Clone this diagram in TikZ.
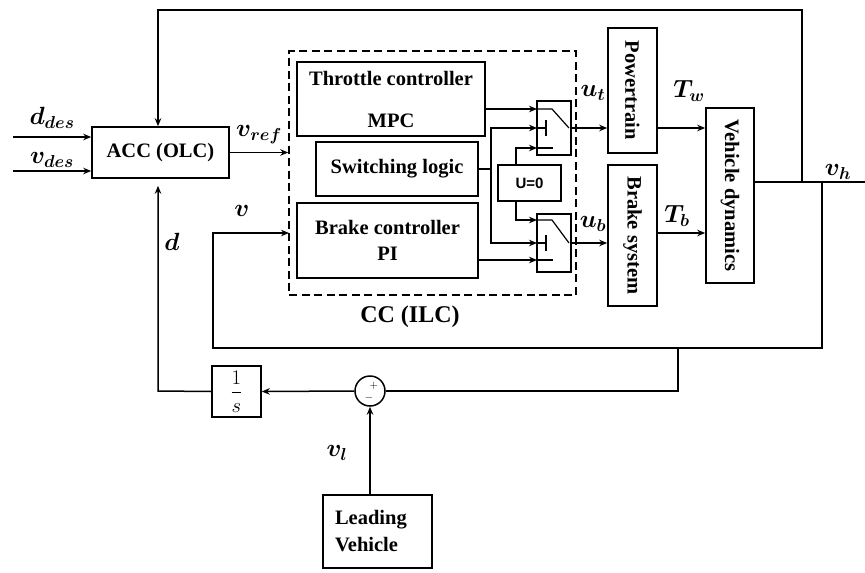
\documentclass[tikz,border=0pt]{standalone}
\usepackage{fontspec}
\setmainfont{Liberation Serif}
\newfontfamily\sansfnt{Liberation Sans}
\usepackage{amsmath,bm,graphicx}
\usetikzlibrary{arrows.meta}
\begin{document}
\begin{tikzpicture}[x=1pt,y=-1pt,
  line width=1.5pt,
  blk/.style={draw, line width=1.6pt, inner sep=0pt, font=\fontsize{20.5}{24}\selectfont\bfseries, align=center},
  arr/.style={-{Stealth[length=8pt,width=6.5pt]}},
  lbl/.style={font=\fontsize{23}{26}\selectfont, inner sep=0pt},
  sgn/.style={font=\fontsize{11}{12}\selectfont, inner sep=0pt}]
\useasboundingbox (0,0) rectangle (865,573);

% blocks
\node[blk, minimum width=137pt, minimum height=51pt] (acc) at (160.5,152.5) {ACC (OLC)};
\node[draw, dash pattern=on 8pt off 4.5pt, line width=1.5pt, minimum width=287pt, minimum height=244pt] (cc) at (432.5,173) {};
\node[font=\fontsize{24}{28}\selectfont\bfseries, inner sep=0pt] (cclbl) at (410,317) {CC (ILC)};
\node[blk, minimum width=188pt, minimum height=74pt] (thr) at (391,99) {Throttle controller\\[18pt]MPC};
\node[blk, minimum width=162pt, minimum height=54pt] (sw) at (397,169) {Switching logic};
\node[blk, minimum width=181pt, minimum height=75pt] (brk) at (387.5,240.5) {Brake controller\\[2pt]PI};
\node[draw, line width=1.4pt, minimum width=34pt, minimum height=54pt, inner sep=0pt] (s1) at (554,128) {};
\node[draw, line width=1.4pt, minimum width=34pt, minimum height=58pt, inner sep=0pt] (s2) at (554,243) {};
\node[draw, line width=1.4pt, minimum width=63pt, minimum height=36pt, inner sep=0pt, font=\sansfnt\bfseries\fontsize{15}{18}\selectfont] (u0) at (529.5,183) {U=0};
\node[blk, minimum width=49pt, minimum height=125pt] (pt) at (632.5,90.5) {\rotatebox{-90}{Powertrain}};
\node[blk, minimum width=49pt, minimum height=141pt] (bs) at (632.5,235.5) {\rotatebox{-90}{Brake system}};
\node[blk, minimum width=48pt, minimum height=175pt] (vd) at (730,195.5) {\rotatebox{-90}{Vehicle dynamics}};
\node[draw, line width=1.5pt, minimum width=49pt, minimum height=51pt, inner sep=0pt, font=\fontsize{20}{24}\selectfont] (inv) at (236.5,391.5) {$\displaystyle\frac{1}{s}$};
\node[draw, circle, line width=1.5pt, minimum size=30pt, inner sep=0pt] (sum) at (370,391) {};
\node[sgn] (plus) at (374,386) {$+$};
\node[sgn] (minus) at (369,398) {$-$};
\node[blk, minimum width=109pt, minimum height=73pt, text width=85pt, align=left, inner xsep=12pt] (lead) at (377.5,531.5) {Leading\\[3pt]Vehicle};

% coordinates
\coordinate (ddes) at (13,137);
\coordinate (vdes) at (13,171);
\coordinate (s1a) at (537,109);
\coordinate (s1b) at (537,128);
\coordinate (s1c) at (537,148);
\coordinate (s2a) at (537,220);
\coordinate (s2b) at (537,243);
\coordinate (s2c) at (537,260);
\coordinate (swj) at (491,169);
\coordinate (vh) at (865,182);
\coordinate (jn1) at (802,182);
\coordinate (jn2) at (822,182);
\coordinate (tl) at (158,10);
\coordinate (fbv) at (213,348);
\coordinate (vin) at (289,233);
\coordinate (jn3) at (678,348);
\coordinate (dx) at (158,391);
\coordinate (tb) at (657,233);

% inputs to ACC
\draw[arr] (ddes) -- (ddes -| acc.west);
\draw[arr] (vdes) -- (vdes -| acc.west);
\node[lbl] (ldd) at (52,118) {$\bm{d_{des}}$};
\node[lbl] (lvd) at (52,160) {$\bm{v_{des}}$};
\draw[arr] (acc.east) -- (acc.east -| cc.west);
\node[lbl] (lvr) at (259,135) {$\bm{v_{ref}}$};

% inside CC
\draw[arr] (thr.east |- s1a) -- (s1a);
\draw (sw.east) -- (swj);
\draw[arr] (swj) |- (s1b);
\draw[arr] (swj) |- (s2b);
\draw[arr] ([xshift=-13.5pt]u0.north) |- (s1c);
\draw[arr] ([xshift=-13.5pt]u0.south) |- (s2a);
\draw[arr] (brk.east |- s2c) -- (s2c);

% switch symbols
\draw[line width=1.2pt] (s1a) -- (552,109) -- (569,128);
\draw[line width=1.2pt] (s1b) -- (546,128) (546,120) -- (546,136);
\draw[line width=1.2pt] (s1c) -- (553,148);
\draw[line width=1.2pt] (s2a) -- (552,220) -- (569,243);
\draw[line width=1.2pt] (s2b) -- (546,243) (546,235) -- (546,251);
\draw[line width=1.2pt] (s2c) -- (553,260);

% actuators
\draw[arr] (s1.east) -- (s1.east -| pt.west);
\draw[arr] (s2.east) -- (s2.east -| bs.west);
\node[lbl] (lut) at (593,93) {$\bm{u_t}$};
\node[lbl] (lub) at (593,224) {$\bm{u_b}$};
\draw[arr] (pt.east |- s1.east) -- (s1.east -| vd.west);
\draw[arr] (bs.east |- tb) -- (tb -| vd.west);
\node[lbl] (ltw) at (689,91) {$\bm{T_w}$};
\node[lbl] (ltb) at (677,216) {$\bm{T_b}$};

% output and feedback
\draw (vd.east |- vh) -- (vh);
\node[lbl] (lvh) at (838,172) {$\bm{v_h}$};
\draw[arr] (jn1) |- (tl) -- (tl |- acc.north);
\draw[arr] (jn2) |- (fbv) |- (vin);
\node[lbl] (lblv) at (242,211) {$\bm{v}$};
\draw (jn3) |- (sum.east);
\draw[arr] (sum.west) -- (inv.east);
\draw[arr, shorten >=7pt] (inv.west) -- (dx) -- (dx |- acc.south);
\node[lbl] (ld) at (172,242) {$\bm{d}$};
\draw[arr] (sum.south |- lead.north) -- (sum.south);
\node[lbl] (lvl) at (337,453) {$\bm{v_l}$};
\end{tikzpicture}
\end{document}
